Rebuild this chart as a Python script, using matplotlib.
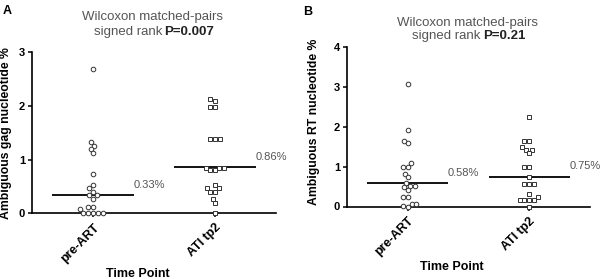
import numpy as np
import matplotlib
matplotlib.use("Agg")
import matplotlib.pyplot as plt

plt.rcParams['font.family'] = ['Liberation Sans', 'DejaVu Sans']

groups = ['pre-ART', 'ATI tp2']

# panel A: ambiguous gag nucleotide %
gag_pre = [2.70, 1.33, 1.26, 1.20, 1.12, 0.73, 0.52, 0.46, 0.40, 0.33,
           0.33, 0.27, 0.11, 0.11, 0.07, 0, 0, 0, 0, 0]
gag_ati = [2.13, 2.10, 1.99, 1.99, 1.39, 1.39, 1.39, 0.85, 0.85, 0.85,
           0.80, 0.80, 0.52, 0.46, 0.46, 0.40, 0.40, 0.27, 0.19, 0]
gag_medians = [0.33, 0.86]

# panel B: ambiguous RT nucleotide %
rt_pre = [3.07, 1.92, 1.65, 1.58, 1.08, 1.00, 1.00, 0.82, 0.73, 0.58,
          0.52, 0.52, 0.48, 0.42, 0.23, 0.23, 0.07, 0.07, 0.02, 0]
rt_ati = [2.25, 1.65, 1.65, 1.48, 1.42, 1.42, 1.33, 1.00, 1.00, 0.73,
          0.57, 0.57, 0.57, 0.31, 0.23, 0.17, 0.17, 0.17, 0.17, 0]
rt_medians = [0.58, 0.75]

W, H = 601, 279
GRAY = '#555555'


def swarm_offsets(vals, d, ypx):
  # simple beeswarm in pixel space, returns x offsets in px
  order = np.argsort(vals, kind='stable')
  placed = []
  offs = np.zeros(len(vals))
  for i in order:
    y = vals[i] * ypx
    cands = [0.0]
    for xj, yj in placed:
      dy = y - yj
      if abs(dy) < d:
        dx = np.sqrt(d * d - dy * dy)
        cands += [xj + dx, xj - dx]
    cands.sort(key=lambda c: (abs(c), c))
    for c in cands:
      if all((c - xj) ** 2 + (y - yj) ** 2 >= d * d - 1e-6 for xj, yj in placed):
        offs[i] = c
        break
    placed.append((offs[i], y))
  return offs


def panel(fig, rect, series, medians, ymax, ylabel):
  ax = fig.add_axes(rect)
  ax.set_xlim(-0.5, 1.5)
  ax.set_ylim(0, ymax)
  xpx = rect[2] * W / 2.0
  ypx = rect[3] * H / ymax
  markers = ['o', 's']
  for i, vals in enumerate(series):
    vals = np.array(vals)
    offs = swarm_offsets(vals, 4.8, ypx) / xpx
    ax.plot(i + offs, vals, linestyle='none', marker=markers[i], ms=3.3,
            mfc='white', mec='#333333', mew=0.7, clip_on=False, zorder=3)
    ax.hlines(medians[i], i - 0.335, i + 0.335, color='black', lw=1.3, zorder=2)
    ax.annotate('%.2f%%' % medians[i], (i + 0.33, medians[i]),
                xytext=(0, 7.5), textcoords='offset points',
                ha='left', va='center', fontsize=8, color=GRAY)
  for s in ['top', 'right']:
    ax.spines[s].set_visible(False)
  for s in ['left', 'bottom']:
    ax.spines[s].set_linewidth(1.2)
  ax.set_yticks(range(0, ymax + 1))
  ax.set_xticks([0, 1])
  ax.set_xticklabels(groups, rotation=45, ha='right', va='top',
                     rotation_mode='anchor', fontweight='bold', fontsize=9)
  ax.tick_params(axis='y', length=3, width=1.1, labelsize=8, pad=2)
  ax.tick_params(axis='x', length=3, width=1.1, pad=3)
  for t in ax.get_yticklabels():
    t.set_fontweight('bold')
  ax.set_ylabel(ylabel, fontweight='bold', fontsize=8.8)
  return ax


fig = plt.figure(figsize=(W / 100, H / 100), dpi=100)

axA = panel(fig, [32 / W, 1 - 213 / H, 244 / W, 160.5 / H],
            [gag_pre, gag_ati], gag_medians, 3, 'Ambiguous gag nucleotide %')
axA.yaxis.set_label_coords(-0.083, 0.5)
axB = panel(fig, [347 / W, 1 - 206.5 / H, 243 / W, 159.5 / H],
            [rt_pre, rt_ati], rt_medians, 4, 'Ambiguous RT nucleotide %')
axB.yaxis.set_label_coords(-0.112, 0.53)

# titles
fig.text(153 / W, 1 - 17.3 / H, 'Wilcoxon matched-pairs', ha='center', va='center',
         fontsize=9.5, color=GRAY)
fig.text(162 / W, 1 - 32.3 / H, 'signed rank', ha='right', va='center',
         fontsize=9.5, color=GRAY)
fig.text(164.5 / W, 1 - 32.3 / H, 'P=0.007', ha='left', va='center',
         fontsize=9.5, fontweight='bold', color='#222222')
fig.text(467.5 / W, 1 - 22.7 / H, 'Wilcoxon matched-pairs', ha='center', va='center',
         fontsize=9.5, color=GRAY)
fig.text(480 / W, 1 - 35.7 / H, 'signed rank', ha='right', va='center',
         fontsize=9.5, color=GRAY)
fig.text(483 / W, 1 - 35.7 / H, 'P=0.21', ha='left', va='center',
         fontsize=9.5, fontweight='bold', color='#222222')

# panel letters and x titles
fig.text(3 / W, 1 - 11 / H, 'A', ha='left', va='center', fontsize=9, fontweight='bold')
fig.text(303 / W, 1 - 12 / H, 'B', ha='left', va='center', fontsize=9, fontweight='bold')
fig.text(138 / W, 1 - 274 / H, 'Time Point', ha='center', va='center',
         fontsize=9, fontweight='bold')
fig.text(452 / W, 1 - 267 / H, 'Time Point', ha='center', va='center',
         fontsize=9, fontweight='bold')

fig.savefig('out.png', dpi=100)
